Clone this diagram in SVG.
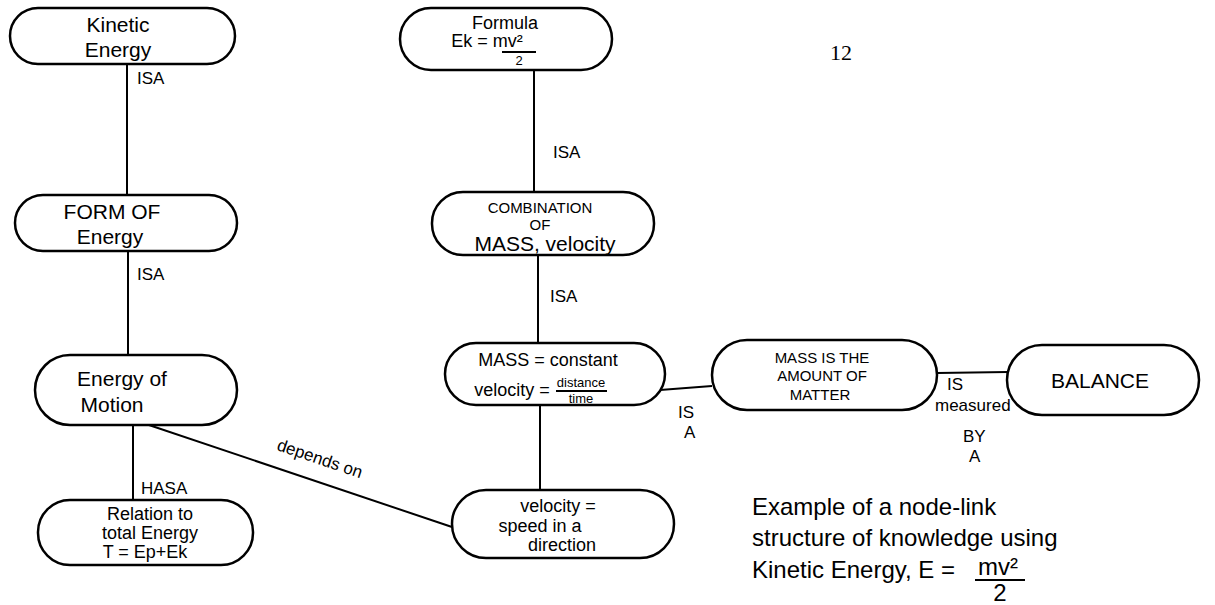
<svg xmlns="http://www.w3.org/2000/svg" width="1215" height="605" viewBox="0 0 1215 605">
<style>
.node{fill:#fff;stroke:#000;stroke-width:2.5}
.t{font-family:"Liberation Sans",Arial,sans-serif;font-size:21px;fill:#000;text-anchor:middle}
.m{font-size:18px}
.s{font-size:15px}
.xs{font-size:13px}
.lbl{font-family:"Liberation Sans",Arial,sans-serif;font-size:17px;fill:#000}
.edge{stroke:#000;stroke-width:2;fill:none}
.cap{font-family:"Liberation Sans",Arial,sans-serif;font-size:24px;fill:#000}
</style>
<rect width="1215" height="605" fill="#fff"/>
<g id="connectors">
<line class="edge" x1="127" y1="64" x2="127" y2="195"/>
<line class="edge" x1="128" y1="251" x2="128" y2="355"/>
<line class="edge" x1="133" y1="425" x2="133" y2="500"/>
<line class="edge" x1="534" y1="70" x2="534" y2="192"/>
<line class="edge" x1="538" y1="255" x2="538" y2="343"/>
<line class="edge" x1="540" y1="405" x2="540" y2="490"/>
<line class="edge" x1="140" y1="422" x2="452" y2="527"/>
<line class="edge" x1="660" y1="390" x2="712" y2="386"/>
<line class="edge" x1="937" y1="373" x2="1008" y2="372"/>
<text class="lbl" x="137" y="84">ISA</text>
<text class="lbl" x="137" y="280">ISA</text>
<text class="lbl" x="141" y="494">HASA</text>
<text class="lbl" x="553" y="158">ISA</text>
<text class="lbl" x="550" y="302">ISA</text>
<text class="lbl" x="678" y="418">IS</text>
<text class="lbl" x="684" y="438">A</text>
<text class="lbl" x="947" y="390">IS</text>
<text class="lbl" x="935" y="411">measured</text>
<text class="lbl" x="963" y="442">BY</text>
<text class="lbl" x="969" y="462">A</text>
<text class="lbl" x="318" y="464" font-size="25" text-anchor="middle" transform="rotate(18.6 318 464)">depends on</text>
</g>
<g id="n1">
<rect class="node" x="10" y="8" width="225" height="56" rx="28"/>
<text class="t" x="118" y="32">Kinetic</text>
<text class="t" x="118" y="57">Energy</text>
</g>
<g id="n2">
<rect class="node" x="400" y="8" width="212" height="62" rx="31"/>
<text class="t m" x="505" y="29">Formula</text>
<text class="t m" x="487" y="47">Ek = mv²</text>
<line x1="502" y1="52" x2="536" y2="52" stroke="#000" stroke-width="2"/>
<text class="t xs" x="519" y="65">2</text>
</g>
<g id="n3">
<rect class="node" x="15" y="195" width="222" height="56" rx="28"/>
<text class="t" x="112" y="219">FORM OF</text>
<text class="t" x="110" y="244">Energy</text>
</g>
<g id="n4">
<rect class="node" x="432" y="192" width="222" height="63" rx="31"/>
<text class="t s" x="540" y="213">COMBINATION</text>
<text class="t s" x="540" y="230">OF</text>
<text class="t" x="545" y="251">MASS, velocity</text>
</g>
<g id="n5">
<rect class="node" x="35" y="355" width="202" height="70" rx="35"/>
<text class="t" x="122" y="386">Energy of</text>
<text class="t" x="112" y="412">Motion</text>
</g>
<g id="n6">
<rect class="node" x="445" y="343" width="220" height="62" rx="31"/>
<text class="t m" x="548" y="366">MASS = constant</text>
<text class="t m" x="512" y="396">velocity =</text>
<text class="t xs" x="581" y="387">distance</text>
<line x1="556" y1="391" x2="607" y2="391" stroke="#000" stroke-width="2"/>
<text class="t xs" x="581" y="403">time</text>
</g>
<g id="n7">
<rect class="node" x="712" y="340" width="225" height="70" rx="35"/>
<text class="t s" x="822" y="363">MASS IS THE</text>
<text class="t s" x="822" y="381">AMOUNT OF</text>
<text class="t s" x="820" y="400">MATTER</text>
</g>
<g id="n8">
<rect class="node" x="1007" y="345" width="192" height="70" rx="35"/>
<text class="t" x="1100" y="388">BALANCE</text>
</g>
<g id="n9">
<rect class="node" x="38" y="500" width="215" height="65" rx="32"/>
<text class="t m" x="150" y="520">Relation to</text>
<text class="t m" x="150" y="539">total Energy</text>
<text class="t m" x="145" y="558">T = Ep+Ek</text>
</g>
<g id="n10">
<rect class="node" x="452" y="490" width="222" height="68" rx="34"/>
<text class="t m" x="558" y="512">velocity  =</text>
<text class="t m" x="540" y="532">speed in a</text>
<text class="t m" x="562" y="551">direction</text>
</g>
<text x="830" y="60" font-family="Liberation Serif,serif" font-size="22" fill="#000">12</text>
<g id="caption">
<text class="cap" x="752" y="515">Example of a node-link</text>
<text class="cap" x="752" y="546">structure of knowledge using</text>
<text class="cap" x="752" y="578">Kinetic Energy, E =</text>
<text class="cap" x="998" y="575" text-anchor="middle">mv²</text>
<line x1="975" y1="580" x2="1025" y2="580" stroke="#000" stroke-width="2"/>
<text class="cap" x="1000" y="601" text-anchor="middle">2</text>
</g>
</svg>
